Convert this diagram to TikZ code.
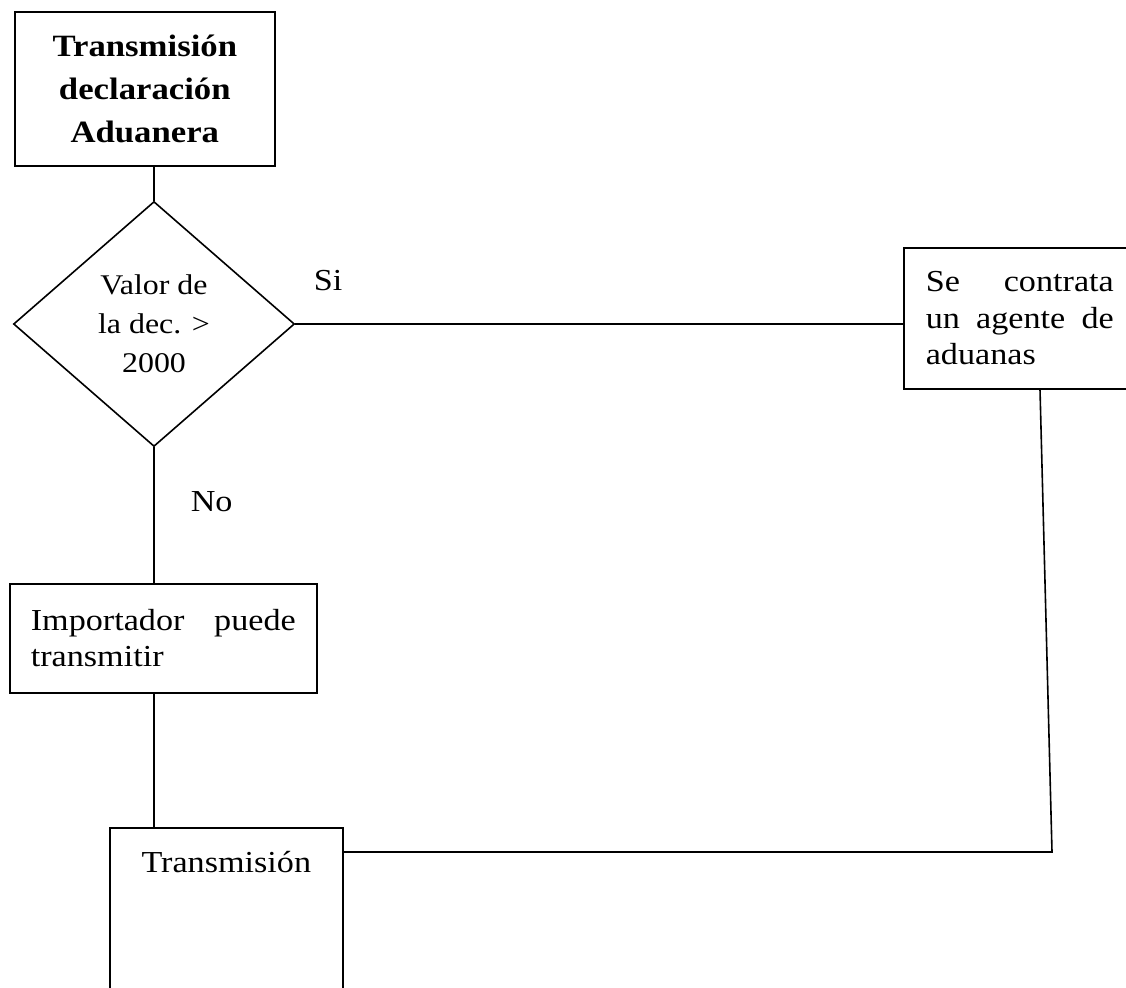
\documentclass[tikz,border=0pt]{standalone}
\usepackage{fontspec}
\setmainfont{Liberation Serif}[FakeStretch=1.12]
\usetikzlibrary{shapes.geometric}
\begin{document}
\begin{tikzpicture}[x=1pt,y=-1pt, line width=1.6pt,
  box/.style={draw, rectangle, inner ysep=0pt},
  txt/.style={font=\fontsize{30.5}{36.5}\selectfont},
  lbl/.style={inner sep=0pt, anchor=base west, font=\fontsize{30.5}{36.5}\selectfont}]
\useasboundingbox (0,0) rectangle (1126,987);
\node[box, anchor=north west, minimum width=260pt, minimum height=154pt, align=center,
  font=\bfseries\fontsize{31}{43}\selectfont] (title) at (14,11) {Transmisión\\declaración\\Aduanera};
\node[draw, diamond, minimum width=281pt, minimum height=245pt, inner sep=0pt, align=center,
  font=\fontsize{28.5}{39}\selectfont] (dec) at (154,324) {Valor de\\la dec. >\\2000};
\node[box, txt, anchor=north west, minimum height=109pt, text width=265pt, inner xsep=21pt,
  align=justify] (imp) at (9,583) {Importador puede\linebreak transmitir};
\node[box, txt, anchor=north west, minimum height=141pt, text width=188pt, inner xsep=22pt,
  align=justify] (agent) at (903,247) {Se contrata\linebreak un agente de\linebreak aduanas};
\node[box, txt, anchor=north west, minimum width=233pt, text height=45pt, text depth=135pt]
  (trans) at (109,827) {Transmisión};
\node[lbl] (si) at (313,290) {Si};
\node[lbl] (no) at (190,511) {No};
\draw (dec.north) -- (dec.north |- title.south);
\draw (dec.east) -- (dec.east -| agent.west);
\draw (dec.south) -- (dec.south |- imp.north);
\draw (imp.south -| dec.south) -- (trans.north -| dec.south);
\coordinate (cr) at (1052,852);
\draw ([xshift=137pt]agent.south west) -- (cr) -- (cr -| trans.east);
\end{tikzpicture}
\end{document}
